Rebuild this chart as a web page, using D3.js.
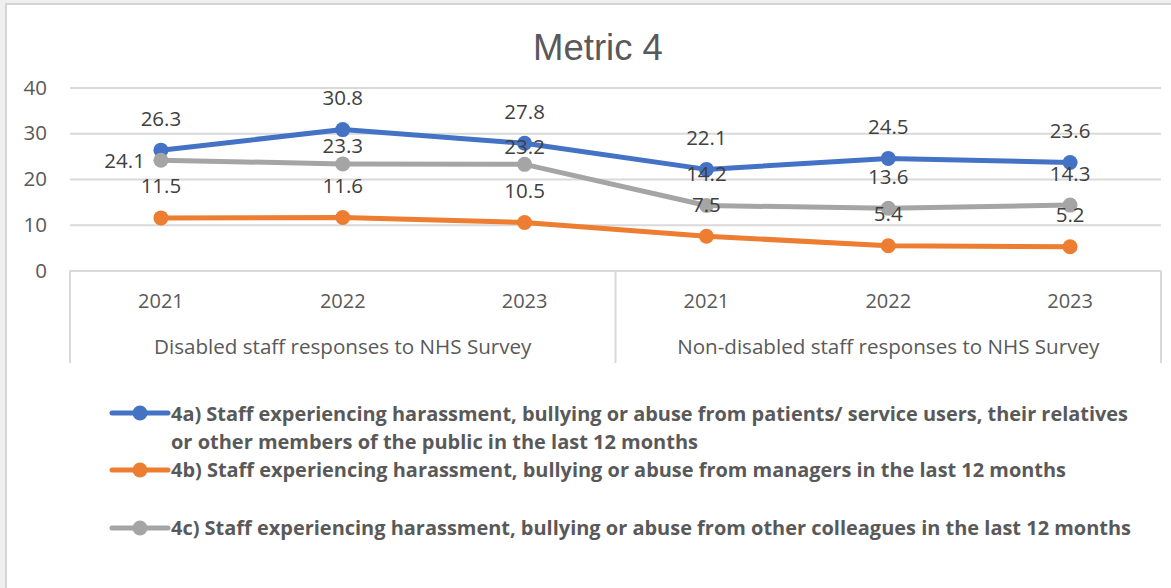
<!DOCTYPE html>
<html>
<head>
<meta charset="utf-8">
<script src="https://cdn.jsdelivr.net/npm/d3@7"></script>
<style>
  html, body { margin: 0; padding: 0; background: #ffffff; }
  svg { display: block; }
</style>
</head>
<body>
<svg id="chart" width="1171" height="588"></svg>
<script>
// Survey groups and years (two-level category axis)
const groups = ["Disabled staff responses to NHS Survey", "Non-disabled staff responses to NHS Survey"];
const years = ["2021", "2022", "2023"];

// Percentages per series, in category order (disabled 2021-2023, non-disabled 2021-2023)
const metric4a = [26.3, 30.8, 27.8, 22.1, 24.5, 23.6];
const metric4b = [11.5, 11.6, 10.5, 7.5, 5.4, 5.2];
const metric4c = [24.1, 23.3, 23.2, 14.2, 13.6, 14.3];

const seriesNames = [
  ["4a) Staff experiencing harassment, bullying or abuse from patients/ service users, their relatives",
   "or other members of the public in the last 12 months"],
  ["4b) Staff experiencing harassment, bullying or abuse from managers in the last 12 months"],
  ["4c) Staff experiencing harassment, bullying or abuse from other colleagues in the last 12 months"]
];

const yTicks = [0, 10, 20, 30, 40];

// ---- drawing ----
const colors = ["#4472C4", "#ED7D31", "#A5A5A5"];
const seriesValues = [metric4a, metric4b, metric4c];

// label placement per point: "above" (default), "aboveNear", "left"
const labelPlacement = [
  ["above", "above", "above", "above", "above", "above"],
  ["above", "above", "above", "above", "above", "above"],
  ["left", "aboveNear", "aboveNear", "above", "above", "above"]
];

const svg = d3.select("#chart");
const W = 1171, H = 588;

// frame
svg.append("rect").attr("x", 0).attr("y", 0).attr("width", W).attr("height", H).attr("fill", "#efefef");
svg.append("rect").attr("x", 6).attr("y", 4).attr("width", W).attr("height", H)
  .attr("fill", "#ffffff").attr("stroke", "#d4d4d4").attr("stroke-width", 2);

const plotLeft = 70, plotRight = 1161, plotTop = 87.5, plotBottom = 270.5;

const keys = [];
groups.forEach((g, gi) => years.forEach(yr => keys.push(gi + "|" + yr)));

const x = d3.scaleBand().domain(keys).range([plotLeft, plotRight]).padding(0);
const y = d3.scaleLinear().domain([0, 40]).range([plotBottom, plotTop]);
const cx = k => x(k) + x.bandwidth() / 2;

// title
svg.append("text")
  .attr("x", 598).attr("y", 59.5)
  .attr("text-anchor", "middle")
  .attr("font-family", "'Liberation Sans', Arial, sans-serif")
  .attr("font-size", 36.5)
  .attr("fill", "#595959")
  .text("Metric 4");

// y axis with gridlines
const yAxis = svg.append("g")
  .attr("transform", `translate(${plotLeft},0)`)
  .call(d3.axisLeft(y).tickValues(yTicks).tickSize(-(plotRight - plotLeft)).tickPadding(23));
yAxis.select(".domain").remove();
yAxis.selectAll(".tick line").attr("stroke", "#d9d9d9").attr("stroke-width", 2);
yAxis.selectAll(".tick text")
  .attr("font-family", "'Open Sans', sans-serif")
  .attr("font-size", 20.5)
  .attr("fill", "#595959");

// x axis: years
const xAxis = svg.append("g")
  .attr("transform", `translate(0,${plotBottom})`)
  .call(d3.axisBottom(x).tickSize(0).tickPadding(0).tickFormat(k => k.split("|")[1]));
xAxis.select(".domain").remove();
xAxis.selectAll(".tick text")
  .attr("y", 37.5).attr("dy", 0)
  .attr("font-family", "'Open Sans', sans-serif")
  .attr("font-size", 20)
  .attr("fill", "#595959");

// category box lines
const boundaries = [x(keys[0]), x(keys[3]), plotRight];
svg.append("g").selectAll("line").data(boundaries).join("line")
  .attr("x1", d => d).attr("x2", d => d)
  .attr("y1", plotBottom).attr("y2", 363)
  .attr("stroke", "#d9d9d9").attr("stroke-width", 2);

// group labels
svg.append("g").selectAll("text").data(groups).join("text")
  .attr("x", (g, gi) => (cx(keys[gi * 3]) + cx(keys[gi * 3 + 2])) / 2)
  .attr("y", 354)
  .attr("text-anchor", "middle")
  .attr("font-family", "'Open Sans', sans-serif")
  .attr("font-size", 20.6)
  .attr("fill", "#595959")
  .text(d => d);

// lines and markers
const line = d3.line().x(d => cx(d.k)).y(d => y(d.v));
seriesValues.forEach((vals, si) => {
  const pts = vals.map((v, i) => ({ k: keys[i], v }));
  const g = svg.append("g");
  g.append("path").datum(pts)
    .attr("d", line)
    .attr("fill", "none")
    .attr("stroke", colors[si])
    .attr("stroke-width", 5)
    .attr("stroke-linejoin", "round")
    .attr("stroke-linecap", "round");
  g.selectAll("circle").data(pts).join("circle")
    .attr("cx", d => cx(d.k)).attr("cy", d => y(d.v))
    .attr("r", 7.5)
    .attr("fill", colors[si]);
});

// data labels
seriesValues.forEach((vals, si) => {
  svg.append("g").selectAll("text").data(vals).join("text")
    .attr("x", (v, i) => labelPlacement[si][i] === "left" ? cx(keys[i]) - 16 : cx(keys[i]))
    .attr("y", (v, i) => {
      const p = labelPlacement[si][i];
      if (p === "left") return y(v) + 7.5;
      if (p === "aboveNear") return y(v) - 18 + 7.5;
      return y(v) - 32 + 7.5;
    })
    .attr("text-anchor", (v, i) => labelPlacement[si][i] === "left" ? "end" : "middle")
    .attr("font-family", "'Open Sans', sans-serif")
    .attr("font-size", 20.5)
    .attr("fill", "#404040")
    .text(v => v.toFixed(1));
});

// legend
const legendRows = [
  { si: 0, markerY: 413, lines: [{ t: seriesNames[0][0], base: 421, end: 1128 }, { t: seriesNames[0][1], base: 448.5, end: 698 }] },
  { si: 1, markerY: 470, lines: [{ t: seriesNames[1][0], base: 477, end: 1066 }] },
  { si: 2, markerY: 528, lines: [{ t: seriesNames[2][0], base: 535, end: 1131 }] }
];
const legend = svg.append("g");
legendRows.forEach(row => {
  legend.append("line")
    .attr("x1", 112).attr("x2", 168)
    .attr("y1", row.markerY).attr("y2", row.markerY)
    .attr("stroke", colors[row.si]).attr("stroke-width", 5).attr("stroke-linecap", "round");
  legend.append("circle")
    .attr("cx", 140).attr("cy", row.markerY).attr("r", 7.5)
    .attr("fill", colors[row.si]);
  row.lines.forEach(l => {
    legend.append("text")
      .attr("x", 171).attr("y", l.base)
      .attr("font-family", "'Open Sans', sans-serif")
      .attr("font-weight", "bold")
      .attr("font-size", 19.5)
      .attr("fill", "#595959")
      .attr("textLength", l.end - 171)
      .attr("lengthAdjust", "spacingAndGlyphs")
      .text(l.t);
  });
});
</script>
</body>
</html>
